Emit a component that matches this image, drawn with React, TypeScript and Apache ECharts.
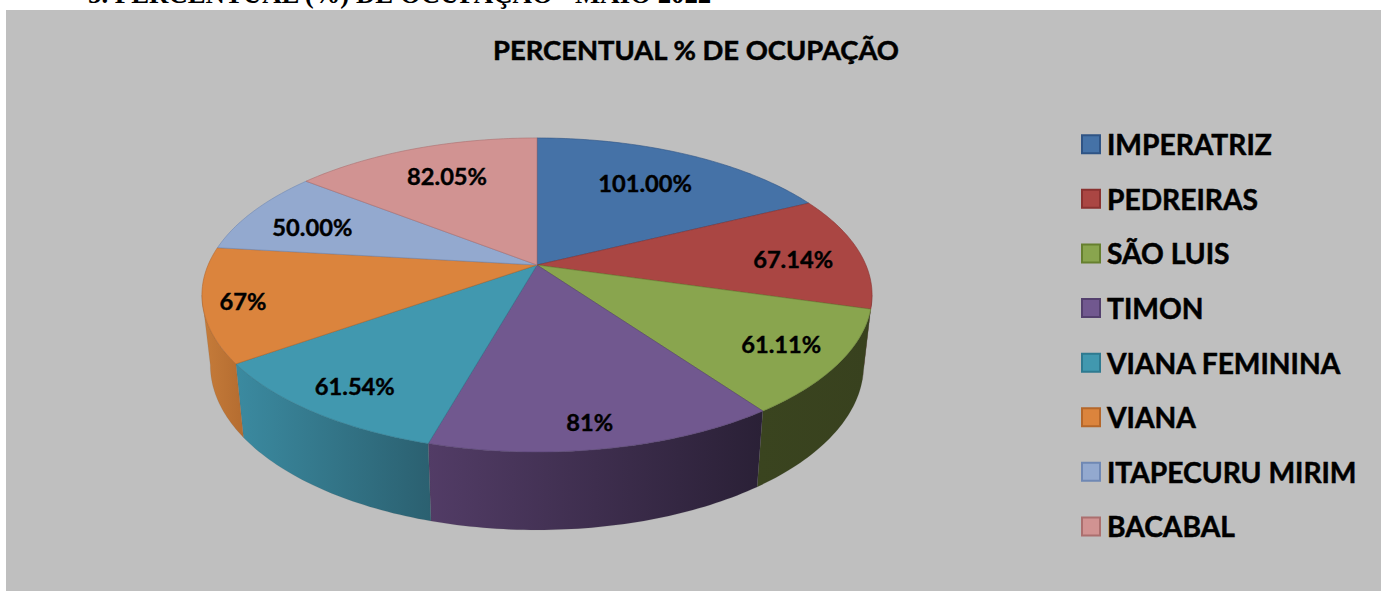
import React, { useEffect, useRef } from "react";
import * as echarts from "echarts";

const categories = ["IMPERATRIZ", "PEDREIRAS", "SÃO LUIS", "TIMON", "VIANA FEMININA", "VIANA", "ITAPECURU MIRIM", "BACABAL"];
const values = [101.0, 67.14, 61.11, 81, 61.54, 67, 50.0, 82.05];
const valueLabels = ["101.00%", "67.14%", "61.11%", "81%", "61.54%", "67%", "50.00%", "82.05%"];

const colors = ["#4572a7", "#aa4643", "#89a54e", "#71588f", "#4198af", "#db843d", "#93a9cf", "#d19392"];
const borders = ["#2f5485", "#8a3230", "#66802f", "#54406e", "#2e7a90", "#b5672a", "#6f88b4", "#ab6f6e"];
const wallStops: [string, string][] = [
  ["#335480", "#335480"],
  ["#7a2f2e", "#6a2827"],
  ["#3a441f", "#38411e"],
  ["#523c66", "#2a2036"],
  ["#3b8aa0", "#2b6070"],
  ["#c67c3a", "#b46c30"],
  ["#6f88b4", "#6f88b4"],
  ["#a06e6d", "#a06e6d"],
];
const labelReach = [0.7, 0.78, 0.83, 0.87, 0.83, 0.89, 0.8, 0.72];
const labelNudge: [number, number][] = [[-1, -1], [4, 4], [-1, -1], [-6, 2], [-2, 3], [2, 1], [5, 6], [2, -2]];

const CX = 537, CY = 265, K = 0.191, A = 151.3, B = 328.9;
const FONT = "Lato, Carlito, Calibri, sans-serif";
const HEAVY = { textBorderColor: "#000", textBorderWidth: 0.5 };

const total = values.reduce((s, v) => s + v, 0);
const starts = values.map((_, i) => values.slice(0, i).reduce((s, v) => s + v, 0) / total * 360);

function top(deg: number, f = 1): [number, number] {
  const t = (deg * Math.PI) / 180;
  const u = Math.sin(t) * f, v = -Math.cos(t) * f;
  const d = 1 - K * v;
  return [CX + (B * u) / d, CY + (A * v) / d];
}
function bottom(p: [number, number]): [number, number] {
  return [CX + 0.975 * (p[0] - CX), p[1] + 73.5 + 0.05 * (p[1] - 363.5)];
}
function arc(a: number, b: number): [number, number][] {
  const n = Math.max(2, Math.ceil(b - a));
  const out: [number, number][] = [];
  for (let i = 0; i <= n; i++) out.push(top(a + ((b - a) * i) / n));
  return out;
}

const WALL_FROM = (Math.acos(-K) * 180) / Math.PI;
const WALL_TO = 360 - WALL_FROM;

function makeRenderItem(i: number) {
  return (_params: any, api: any) => {
    const value = api.value(0);
    const a = starts[i];
    const b = a + (value / total) * 360;
    const children: any[] = [];
    const wa = Math.max(a, WALL_FROM), wb = Math.min(b, WALL_TO);
    if (wb > wa) {
      const upper = arc(wa, wb);
      const lower = upper.map(bottom).reverse();
      children.push({
        type: "polygon",
        shape: { points: [...upper, ...lower] },
        style: {
          fill: new echarts.graphic.LinearGradient(0, 0, 1, 0, [
            { offset: 0, color: wallStops[i][0] },
            { offset: 1, color: wallStops[i][1] },
          ]),
          stroke: "rgba(90,90,90,0.25)",
          lineWidth: 0.5,
        },
      });
    }
    children.push({
      type: "polygon",
      shape: { points: [[CX, CY], ...arc(a, b)] },
      style: { fill: colors[i], stroke: borders[i], lineWidth: 0.6 },
    });
    const [lx, ly] = top((a + b) / 2, labelReach[i]);
    children.push({
      type: "text",
      style: {
        x: lx + labelNudge[i][0], y: ly + labelNudge[i][1], text: valueLabels[i], align: "center", verticalAlign: "middle",
        font: `bold 23.7px ${FONT}`, fill: "#000", stroke: "#000", lineWidth: 0.4,
      },
    });
    return { type: "group", children };
  };
}

export default function App() {
  const ref = useRef<HTMLDivElement>(null);
  useEffect(() => {
    const chart = echarts.init(ref.current!, null, { renderer: "svg" });
    chart.setOption({
      animation: false,
      backgroundColor: "#ffffff",
      graphic: [
        {
          type: "text", x: 88, y: -20, z: 0,
          style: { text: "5. PERCENTUAL (%) DE OCUPAÇÃO - MAIO 2022", font: "bold 26.8px 'Liberation Serif', serif", fill: "#000" },
        },
        { type: "rect", shape: { x: 6, y: 10, width: 1375, height: 581 }, style: { fill: "#bfbfbf" }, z: 1 },
      ],
      title: {
        text: "PERCENTUAL % DE OCUPAÇÃO",
        left: 691, top: 31, textAlign: "center",
        textStyle: { fontFamily: FONT, fontWeight: "bold", fontSize: 27.4, color: "#000", ...HEAVY },
        z: 5,
      },
      legend: {
        orient: "vertical", left: 1076, top: 125, itemWidth: 18, itemHeight: 18, itemGap: 26.1,
        textStyle: { fontFamily: FONT, fontWeight: "bold", fontSize: 28.2, color: "#000", lineHeight: 18, padding: [0, 0, 0, 2], ...HEAVY },
        data: categories.map((name, i) => ({
          name, icon: "rect",
          itemStyle: { color: colors[i], borderColor: borders[i], borderWidth: 2 },
        })),
        selectedMode: false,
        z: 5,
      },
      series: categories.map((name, i) => ({
        type: "custom", name, coordinateSystem: "none", silent: true, z: 3,
        itemStyle: { color: colors[i] },
        data: [[values[i]]],
        renderItem: makeRenderItem(i),
      })),
    });
    return () => chart.dispose();
  }, []);
  return <div ref={ref} style={{ position: "fixed", left: 0, top: 0, width: 1381, height: 591 }} />;
}
